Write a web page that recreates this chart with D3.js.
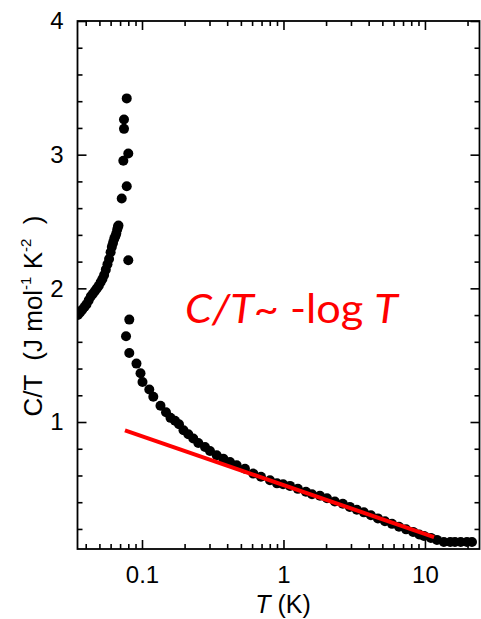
<!DOCTYPE html>
<html>
<head>
<meta charset="utf-8">
<script src="https://cdn.jsdelivr.net/npm/d3@7/dist/d3.min.js"></script>
<style>
  html, body { margin: 0; padding: 0; background: #fff; }
  svg { display: block; }
</style>
</head>
<body>
<svg id="chart" width="481" height="619"></svg>
<script>
// ---- data ----
const lowBranchT = [0.0352,0.0365,0.0378,0.0392,0.0405,0.0420,0.0435,0.0450,0.0465,0.0480,0.0495,0.0510,0.0525,0.0540,0.0555,0.0570,0.0585,0.0600,0.0612,0.0624,0.0636,0.0648,0.0658,0.0668,0.0676,0.0682];
const lowBranchCT = [1.80,1.82,1.84,1.86,1.88,1.91,1.94,1.96,1.98,2.00,2.02,2.045,2.07,2.10,2.14,2.18,2.22,2.27,2.31,2.34,2.37,2.39,2.41,2.44,2.46,2.47];

const peakT  = [0.0780,0.0746,0.0746,0.0800,0.0738,0.0780,0.0719,0.0800];
const peakCT = [3.421,3.263,3.193,3.009,2.954,2.764,2.672,2.210];

const highT  = [0.0813,0.0771,0.0813,0.0914,0.0976,0.1008,0.1126,0.1202,0.1351,0.1478,0.1590,0.1711,0.1826,0.1965,0.2125,0.2304,0.2500,0.2788,0.3024,0.3373,0.3755,0.4188,0.4670,0.5344,0.6118,0.6934,0.8028,0.8996,0.994,1.112,1.264,1.441,1.591,1.810,2.031,2.306,2.626,2.943,3.300,3.700,4.149,4.651,5.216,5.848,6.557,7.352,8.245,9.107,9.84,11.02,12.16,13.6,15.1,16.3,17.9,19.8,21.5];
const highCT = [1.766,1.641,1.516,1.437,1.365,1.299,1.243,1.189,1.121,1.073,1.031,1.009,0.983,0.938,0.908,0.876,0.843,0.813,0.783,0.751,0.726,0.701,0.676,0.651,0.614,0.590,0.564,0.541,0.534,0.522,0.500,0.478,0.459,0.448,0.429,0.406,0.388,0.365,0.343,0.324,0.302,0.279,0.257,0.238,0.216,0.197,0.178,0.159,0.148,0.133,0.118,0.103,0.102,0.102,0.102,0.102,0.102];

const fitT  = [0.0758, 11.6];
const fitCT = [0.938, 0.139];

const xMajorTicks = [0.1, 1, 10];
const xMinorTicks = [0.04,0.05,0.06,0.07,0.08,0.09,0.2,0.3,0.4,0.5,0.6,0.7,0.8,0.9,2,3,4,5,6,7,8,9,20];
const yMajorTicks = [1, 2, 3, 4];
const yMinorTicks = [0.2,0.4,0.6,0.8,1.2,1.4,1.6,1.8,2.2,2.4,2.6,2.8,3.2,3.4,3.6,3.8];
const xTickLabels = ["0.1", "1", "10"];
const yTickLabels = ["1", "2", "3", "4"];

// ---- layout ----
const svg = d3.select("#chart");
const L = 77.5, R = 479.5, T = 21, B = 549;
const x = d3.scaleLog().domain([0.035, 24.3]).range([L, R]);
const y = d3.scaleLinear().domain([0.05, 4]).range([B, T]);

const fontAx = "'Liberation Sans', Arial, sans-serif";
const fs = 24;

// data points
const pts = [];
lowBranchT.forEach((t,i)=>pts.push([t, lowBranchCT[i]]));
peakT.forEach((t,i)=>pts.push([t, peakCT[i]]));
highT.forEach((t,i)=>pts.push([t, highCT[i]]));

svg.append("defs").append("clipPath").attr("id","clip")
  .append("rect").attr("x", L).attr("y", T).attr("width", R-L).attr("height", B-T);

svg.append("g").attr("clip-path","url(#clip)")
  .selectAll("circle").data(pts).join("circle")
  .attr("cx", d=>x(d[0])).attr("cy", d=>y(d[1])).attr("r", 5)
  .attr("fill", "#000");

// fit line
const line = d3.line().x(d=>x(d[0])).y(d=>y(d[1]));
svg.append("path")
  .datum(fitT.map((t,i)=>[t, fitCT[i]]))
  .attr("d", line).attr("stroke", "#ff0000").attr("stroke-width", 4).attr("fill","none");

// axes
function styleAxis(g){
  g.select(".domain").remove();
  g.selectAll(".tick line").attr("stroke","#000").attr("stroke-width",1.6);
  g.selectAll(".tick text").attr("font-family", fontAx).attr("font-size", fs).attr("fill","#000");
}
svg.append("g").attr("transform",`translate(0,${B})`)
  .call(d3.axisBottom(x).tickValues(xMajorTicks).tickSize(-9).tickPadding(17)
    .tickFormat((d,i)=>xTickLabels[i])).call(styleAxis);
svg.append("g").attr("transform",`translate(0,${B})`)
  .call(d3.axisBottom(x).tickValues(xMinorTicks).tickSize(-5).tickFormat("")).call(styleAxis);
svg.append("g").attr("transform",`translate(0,${T})`)
  .call(d3.axisTop(x).tickValues(xMajorTicks).tickSize(-9).tickFormat("")).call(styleAxis);
svg.append("g").attr("transform",`translate(0,${T})`)
  .call(d3.axisTop(x).tickValues(xMinorTicks).tickSize(-5).tickFormat("")).call(styleAxis);

svg.append("g").attr("transform",`translate(${L},0)`)
  .call(d3.axisLeft(y).tickValues(yMajorTicks).tickSize(-9).tickPadding(14)
    .tickFormat((d,i)=>yTickLabels[i])).call(styleAxis);
svg.append("g").attr("transform",`translate(${L},0)`)
  .call(d3.axisLeft(y).tickValues(yMinorTicks).tickSize(-5).tickFormat("")).call(styleAxis);
svg.append("g").attr("transform",`translate(${R},0)`)
  .call(d3.axisRight(y).tickValues(yMajorTicks).tickSize(-9).tickFormat("")).call(styleAxis);
svg.append("g").attr("transform",`translate(${R},0)`)
  .call(d3.axisRight(y).tickValues(yMinorTicks).tickSize(-5).tickFormat("")).call(styleAxis);

// frame
svg.append("rect").attr("x", L).attr("y", T).attr("width", R-L).attr("height", B-T)
  .attr("fill","none").attr("stroke","#000").attr("stroke-width",1.8);

// axis titles
const xt = svg.append("text").attr("x", 283).attr("y", 613).attr("text-anchor","middle")
  .attr("font-family", fontAx).attr("font-size", 25).attr("fill","#000");
xt.append("tspan").attr("font-style","italic").text("T");
xt.append("tspan").text(" (K)");

const yt = svg.append("text").attr("transform","translate(42,316) rotate(-90)")
  .attr("text-anchor","middle").attr("font-family", fontAx).attr("font-size", 26).attr("fill","#000")
  .style("white-space","pre");
yt.append("tspan").text("C/T  (J mol");
yt.append("tspan").attr("font-size", 15).attr("dy", -11).text("-1");
yt.append("tspan").attr("dy", 11).text(" K");
yt.append("tspan").attr("font-size", 15).attr("dy", -11).text("-2");
yt.append("tspan").attr("dy", 11).text("  )");

// annotation
const ann = svg.append("text").attr("x", 185).attr("y", 323)
  .attr("font-family", "Lato, 'Open Sans', sans-serif").attr("font-size", 41).attr("fill","#ff0000")
  .attr("textLength", 213).attr("lengthAdjust","spacingAndGlyphs");
ann.append("tspan").attr("font-style","italic").text("C/T");
ann.append("tspan").text("~ -log ");
ann.append("tspan").attr("font-style","italic").text("T");
</script>
</body>
</html>
